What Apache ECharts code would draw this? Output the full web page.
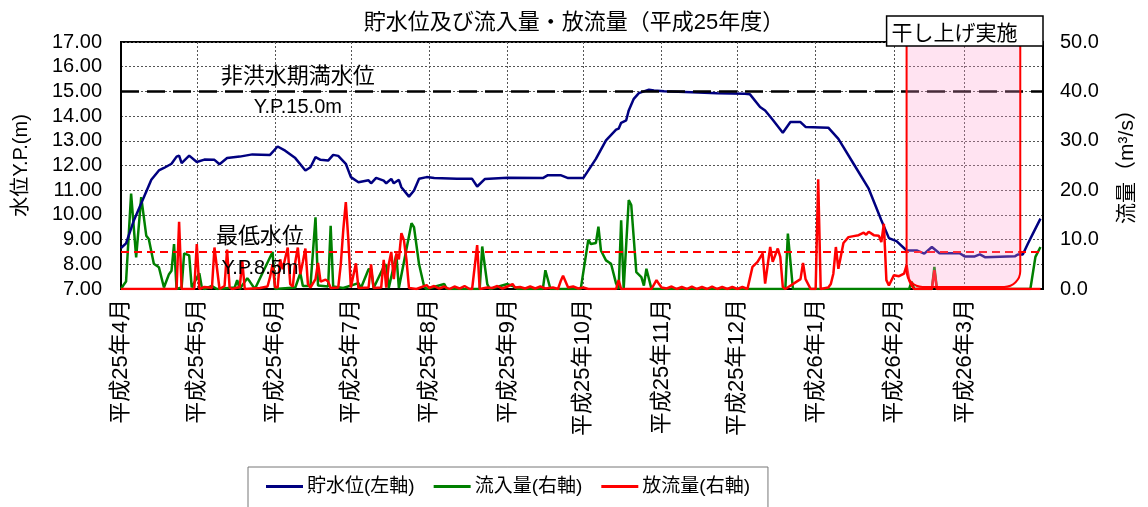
<!DOCTYPE html>
<html>
<head>
<meta charset="utf-8">
<script src="https://cdn.jsdelivr.net/npm/echarts@6/dist/echarts.min.js"></script>
<style>
  html, body { margin: 0; padding: 0; background: #fff; }
  #chart { width: 1148px; height: 507px; }
</style>
</head>
<body>
<div id="chart"></div>
<script>
// Days are counted from 平成25年4月1日 (day 0). Each pair is [day, value].
const storageLevel = [
  [0, 8.66], [2, 8.85], [5, 9.75], [9, 10.7], [12, 11.42], [15, 11.8], [17, 11.9], [20, 12.07],
  [22, 12.36], [23, 12.4], [24, 12.1], [27, 12.4], [30, 12.14], [33, 12.24], [37, 12.23], [39, 12.05],
  [42, 12.3], [47, 12.36], [52, 12.45], [59, 12.43], [62, 12.77], [65, 12.6], [69, 12.3], [73, 11.8],
  [75, 11.93], [77, 12.34], [79, 12.23], [82, 12.2], [84, 12.43], [86, 12.39], [89, 12.07], [91, 11.53],
  [94, 11.32], [98, 11.4], [99, 11.28], [101, 11.5], [104, 11.39], [105, 11.28], [107, 11.46], [108, 11.28],
  [110, 11.42], [111, 11.12], [114, 10.74], [116, 10.99], [118, 11.46], [121, 11.53], [124, 11.49],
  [133, 11.46], [139, 11.46], [141, 11.15], [144, 11.45], [153, 11.5], [167, 11.49], [169, 11.61],
  [174, 11.61], [177, 11.49], [183, 11.49], [188, 12.27], [192, 13.02], [196, 13.45], [197, 13.49],
  [198, 13.73], [200, 13.83], [201, 14.23], [203, 14.7], [205, 14.93], [209, 15.07], [211, 15.04],
  [215, 15.01], [226, 14.97], [236, 14.93], [247, 14.9], [249, 14.88], [253, 14.37], [255, 14.23],
  [258, 13.85], [262, 13.33], [265, 13.76], [269, 13.76], [271, 13.56], [280, 13.53], [284, 13.08],
  [290, 12.07], [296, 11.06], [301, 9.78], [304, 9.06], [307, 8.94], [311, 8.56], [315, 8.56],
  [318, 8.43], [321, 8.7], [324, 8.45], [332, 8.45], [334, 8.32], [338, 8.32], [340, 8.4], [342, 8.29],
  [354, 8.33], [355, 8.4], [357, 8.4], [359, 8.83], [361, 9.24], [364, 9.85]
];

const inflow = [
  [0, 0], [1, 0.8], [2, 1.5], [4, 19.3], [6, 6.4], [8, 18.6], [10, 10.8], [11, 10.1], [13, 5.1],
  [15, 4.4], [17, 0.3], [19, 3], [20, 3.7], [21, 9.1], [22, 0], [24, 0.3], [25, 7.2], [27, 6.8],
  [28, 0.3], [31, 3.2], [32, 0.3], [33, 0], [36, 0.6], [38, 0], [45, 0.3], [46, 1.8], [47, 0],
  [50, 2.2], [51, 1.5], [53, 0], [60, 7.5], [61, 0], [69, 0.3], [71, 3.2], [72, 0.6], [75, 0.6],
  [77, 14.5], [78, 0.7], [82, 0.5], [83, 12.8], [84, 0.5], [88, 0.2], [94, 1.2], [95, 0.2], [98, 4],
  [99, 4], [100, 0.2], [104, 4.5], [105, 5], [106, 0.2], [109, 7], [110, 0.2], [115, 13.3], [116, 12.5],
  [118, 5], [120, 0.5], [121, 0], [128, 1], [129, 0], [142, 0], [143, 8.6], [145, 1], [146, 0],
  [153, 1], [155, 0.6], [157, 0], [167, 0], [168, 3.8], [170, 0], [182, 0], [185, 10], [186, 9.1],
  [188, 9.3], [189, 12.6], [190, 7.8], [192, 5.8], [194, 5.1], [196, 1.1], [197, 0], [198, 13.9],
  [199, 0], [201, 18], [202, 17], [204, 3.4], [206, 2.4], [207, 0.7], [208, 4.1], [210, 0], [263, 0],
  [264, 11.2], [266, 0], [312, 0], [313, 1.5], [314, 0], [321, 0], [322, 4.5], [323, 0], [360, 0],
  [362, 6.5], [364, 8.5]
];

const outflow = [
  [0, 0], [22, 0], [23, 13.6], [24, 0], [29, 0], [30, 9.1], [31, 0], [33, 0.4], [35, 0.3], [36, 0.2],
  [37, 8.4], [39, 0], [41, 0.6], [42, 8], [43, 0.3], [44, 0], [47, 0.4], [48, 5.7], [49, 0], [55, 0.2],
  [58, 0.5], [59, 2.4], [60, 5], [61, 0.4], [62, 0.3], [63, 6], [64, 4], [66, 8.4], [67, 1], [68, 0.5],
  [69, 5.5], [70, 8.4], [71, 3], [72, 5.5], [73, 8.2], [74, 1], [75, 0.3], [77, 2], [78, 5.3], [79, 1.5],
  [81, 1.9], [82, 1.5], [83, 0.2], [86, 0.3], [87, 5], [88, 12], [89, 17.6], [90, 10], [91, 0.3],
  [93, 5.2], [94, 0.2], [98, 0.3], [99, 5], [100, 0.2], [103, 0.3], [104, 5.9], [105, 0.3], [106, 5],
  [107, 7.5], [108, 2], [109, 7.2], [110, 6], [111, 11.3], [112, 9.9], [113, 6], [114, 0.2], [117, 0],
  [121, 0.8], [122, 0.2], [124, 0.6], [126, 0.1], [128, 0.5], [130, 0], [132, 0.5], [134, 0.1],
  [136, 0.6], [138, 0], [139, 0], [141, 8.9], [142, 0], [145, 0.3], [147, 0.2], [149, 0.6], [151, 0.1],
  [153, 0.5], [155, 1], [156, 0.3], [158, 0.4], [160, 0.1], [162, 0.5], [164, 0.1], [166, 0.5],
  [168, 0.1], [171, 0.3], [173, 0], [174, 1.5], [175, 2.7], [177, 0.3], [179, 0.5], [181, 0.1],
  [183, 0.3], [185, 0], [196, 0], [197, 1.8], [198, 0], [210, 0], [212, 1.8], [213, 1], [214, 0.3],
  [216, 0.1], [218, 0.5], [220, 0], [222, 0.4], [224, 0], [226, 0.5], [228, 0], [230, 0.4], [232, 0],
  [234, 0.5], [236, 0], [238, 0.4], [240, 0], [242, 0.4], [244, 0], [246, 0.4], [248, 0], [250, 4.5],
  [252, 5.5], [254, 7.2], [255, 1.1], [257, 8.5], [258, 5.5], [260, 8.2], [261, 6.5], [262, 0.4],
  [263, 0], [269, 2], [270, 5.3], [271, 2], [273, 0], [275, 0], [276, 22.2], [277, 0], [280, 0.3],
  [281, 1], [282, 3.1], [283, 8.5], [284, 4.1], [286, 9.3], [288, 10.5], [290, 10.7], [292, 10.9],
  [294, 11.4], [295, 11], [296, 11.6], [298, 10.9], [300, 10.8], [301, 9.5], [302, 13.2], [303, 1.8],
  [304, 0.7], [306, 2.8], [308, 2.6], [310, 3.1], [311, 4.8], [312, 1.8], [313, 0.7], [314, 0],
  [321, 0], [322, 3.8], [323, 0], [364, 0]
];

// Reference levels (Y.P. m)
const fullLevel = 15.0;
const minLevel = 8.5;
// 干し上げ period, in days from 4月1日
const dryingPeriod = [311, 356];

const seriesNames = ['貯水位(左軸)', '流入量(右軸)', '放流量(右軸)'];
const titleText = '貯水位及び流入量・放流量（平成25年度）';

const FONT = '"Liberation Sans", "Noto Sans CJK JP", sans-serif';
const dayToTime = d => new Date(2013, 3, 1 + d).getTime();
const toSeries = arr => arr.map(([d, v]) => [dayToTime(d), v]);

const chart = echarts.init(document.getElementById('chart'), null, { renderer: 'canvas' });

const dotted = { color: '#555', type: [2, 2], width: 1 };

const option = {
  animation: false,
  backgroundColor: '#fff',
  textStyle: { fontFamily: FONT, color: '#000' },
  title: {
    text: titleText,
    left: 'center',
    top: 7,
    textStyle: { fontFamily: FONT, fontSize: 22, fontWeight: 'normal', color: '#000' }
  },
  legend: {
    data: seriesNames,
    left: 248,
    top: 467,
    padding: [10, 18, 30, 18],
    itemGap: 19,
    itemWidth: 37,
    itemHeight: 3,
    icon: 'rect',
    borderColor: '#777',
    borderWidth: 1,
    textStyle: { fontFamily: FONT, fontSize: 19, color: '#000', padding: [0, 0, 0, -1] }
  },
  grid: {
    left: 121, right: 105, top: 42, bottom: 218,
    show: true, borderColor: '#000', borderWidth: 2,
    outerBoundsMode: 'none'
  },
  xAxis: {
    type: 'time',
    min: dayToTime(0),
    max: dayToTime(365),
    splitNumber: 12,
    axisLine: { show: true, lineStyle: { color: '#000', width: 2 } },
    axisTick: { show: false },
    splitLine: { show: true, lineStyle: dotted },
    axisLabel: {
      rotate: 90,
      margin: 10,
      fontFamily: FONT,
      fontSize: 22,
      color: '#000',
      hideOverlap: false,
      formatter: v => {
        const dt = new Date(v);
        const y = dt.getFullYear(), m = dt.getMonth() + 1;
        if (dt.getTime() >= dayToTime(365)) return '';
        return '平成' + (y - 1988) + '年' + m + '月';
      }
    }
  },
  yAxis: [
    {
      type: 'value', position: 'left', min: 7, max: 17, interval: 1,
      name: '水位Y.P.(m)', nameLocation: 'middle', nameGap: 90, nameRotate: 90,
      nameTextStyle: { fontFamily: FONT, fontSize: 20, color: '#000' },
      axisLine: { show: true, lineStyle: { color: '#000', width: 2 } },
      axisTick: { show: false },
      splitLine: { show: true, lineStyle: dotted },
      axisLabel: { fontFamily: FONT, fontSize: 20, color: '#000', margin: 19, formatter: v => v.toFixed(2) }
    },
    {
      type: 'value', position: 'right', min: 0, max: 50, interval: 10,
      name: '流量（m³/s）', nameLocation: 'middle', nameGap: 74, nameRotate: 90,
      nameTextStyle: { fontFamily: FONT, fontSize: 21, color: '#000', padding: [0, 0, 0, 8] },
      axisLine: { show: true, lineStyle: { color: '#000', width: 2 } },
      axisTick: { show: false },
      splitLine: { show: false },
      axisLabel: { fontFamily: FONT, fontSize: 20, color: '#000', margin: 17, formatter: v => v.toFixed(1) }
    }
  ],
  series: [
    {
      name: seriesNames[0], type: 'line', yAxisIndex: 0, symbol: 'none',
      data: toSeries(storageLevel),
      color: '#000080', lineStyle: { color: '#000080', width: 2.5 },
      z: 3,
      markLine: {
        silent: true, symbol: 'none', animation: false,
        label: { show: false },
        data: [
          { yAxis: fullLevel, lineStyle: { color: '#000', type: [18, 8], width: 2.5 } },
          { yAxis: minLevel, lineStyle: { color: '#ff0000', type: [8, 5], width: 2 } }
        ]
      }
    },
    {
      name: seriesNames[1], type: 'line', yAxisIndex: 1, symbol: 'none',
      data: toSeries(inflow),
      color: '#008000', lineStyle: { color: '#008000', width: 2.5 },
      z: 2
    },
    {
      name: seriesNames[2], type: 'line', yAxisIndex: 1, symbol: 'none',
      data: toSeries(outflow),
      color: '#ff0000', lineStyle: { color: '#ff0000', width: 2.5 },
      z: 4
    }
  ]
};

chart.setOption(option);

// Annotations placed through the axes' own scales
const toPx = (d, level) => chart.convertToPixel({ xAxisIndex: 0, yAxisIndex: 0 }, [dayToTime(d), level]);
const [plotLeft, plotTop] = toPx(0, 17);
const [plotRight, plotBottom] = toPx(365, 7);
const [dryX0] = toPx(dryingPeriod[0], 7);
const [dryX1] = toPx(dryingPeriod[1], 7);

const textAt = (d, level, text, size) => {
  const [x, y] = toPx(d, level);
  return {
    type: 'text', z: 20, silent: true,
    style: { text, x, y, align: 'center', verticalAlign: 'middle', font: size + 'px ' + FONT, fill: '#000' }
  };
};

chart.setOption({
  graphic: [
    textAt(70, 15.58, '非洪水期満水位', 22),
    textAt(70, 14.33, 'Y.P.15.0m', 20),
    textAt(55, 9.12, '最低水位', 22),
    textAt(55.5, 7.85, 'Y.P.8.5m', 20),
    {
      type: 'rect', z: 30, silent: true,
      shape: { x: dryX0, y: plotTop, width: dryX1 - dryX0, height: plotBottom - plotTop - 2, r: [0, 0, 16, 16] },
      style: { fill: 'rgba(255,153,204,0.28)', stroke: '#ff0000', lineWidth: 2 }
    },
    {
      type: 'rect', z: 40, silent: true,
      shape: { x: dryX0 - 20, y: plotTop - 26, width: plotRight - (dryX0 - 20), height: 30 },
      style: { fill: '#fff', stroke: '#000', lineWidth: 1.5 }
    },
    {
      type: 'text', z: 41, silent: true,
      style: {
        text: '干し上げ実施', x: dryX0 - 15, y: plotTop - 8,
        align: 'left', verticalAlign: 'middle', font: '21px ' + FONT, fill: '#000'
      }
    }
  ]
});
</script>
</body>
</html>
